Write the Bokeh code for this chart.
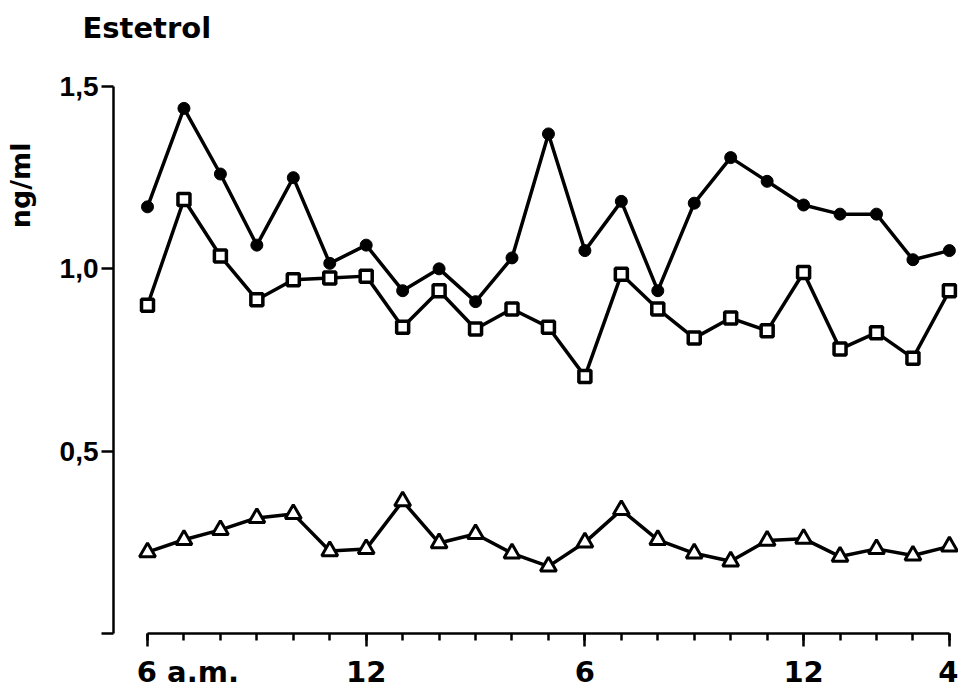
from bokeh.plotting import figure
from bokeh.models import Range1d, FixedTicker, Title
from bokeh.embed import file_html
from bokeh.resources import INLINE

# hours after 6 a.m. (6 a.m. -> 4 a.m. next day)
hours = list(range(23))
x_tick_values = [0, 6, 12, 18, 22]
x_tick_labels = ["\u00a0" * 8 + "6 a.m.", "12", "6", "12", "4"]
y_tick_values = [0, 0.5, 1.0, 1.5]
y_tick_labels = ["", "0,5", "1,0", "1,5"]

# Estetrol, ng/ml
circles = [1.17, 1.44, 1.26, 1.065, 1.25, 1.015, 1.065, 0.94, 1.0, 0.91, 1.03, 1.37,
           1.05, 1.185, 0.94, 1.18, 1.305, 1.24, 1.175, 1.15, 1.15, 1.025, 1.05]
squares = [0.90, 1.19, 1.035, 0.915, 0.97, 0.975, 0.98, 0.84, 0.94, 0.835, 0.89, 0.84,
           0.705, 0.985, 0.89, 0.81, 0.865, 0.83, 0.99, 0.78, 0.825, 0.755, 0.94]
triangles = [0.223, 0.257, 0.284, 0.317, 0.328, 0.226, 0.232, 0.363, 0.248, 0.273, 0.22, 0.184,
             0.25, 0.339, 0.257, 0.22, 0.198, 0.255, 0.26, 0.211, 0.232, 0.214, 0.239]

p = figure(width=958, height=692, output_backend="svg", toolbar_location=None,
           x_range=Range1d(-0.933, 22.25), y_range=Range1d(0, 1.5),
           min_border_left=113, min_border_right=0, min_border_top=86, min_border_bottom=59,
           title=None)
p.outline_line_color = None
p.grid.visible = False
p.background_fill_color = "white"
p.border_fill_color = "white"

# x axis
xa = p.xaxis[0]
xa.ticker = FixedTicker(ticks=x_tick_values, minor_ticks=hours)
xa.bounds = (0, 22)
xa.major_label_overrides = dict(zip(x_tick_values, x_tick_labels))
xa.axis_line_width = 2.5
xa.major_tick_line_width = 2.5
xa.minor_tick_line_width = 2.5
xa.major_tick_out = 13
xa.major_tick_in = 0
xa.minor_tick_out = 7
xa.minor_tick_in = 0
xa.major_label_standoff = 8
xa.major_label_text_font = "DejaVu Sans"
xa.major_label_text_font_style = "bold"
xa.major_label_text_font_size = "29px"
xa.major_label_text_color = "black"

# y axis
ya = p.yaxis[0]
ya.ticker = FixedTicker(ticks=y_tick_values, minor_ticks=[])
ya.bounds = (0, 1.5)
ya.major_label_overrides = dict(zip(y_tick_values, y_tick_labels))
ya.axis_line_width = 2.5
ya.major_tick_line_width = 2.5
ya.major_tick_out = 12
ya.major_tick_in = 0
ya.minor_tick_out = 0
ya.minor_tick_in = 0
ya.major_label_standoff = 3
ya.major_label_text_font = "Liberation Sans"
ya.major_label_text_font_style = "bold"
ya.major_label_text_font_size = "28px"
ya.major_label_text_color = "black"

# series
p.line(hours, circles, line_color="black", line_width=3.5)
p.scatter(hours, circles, marker="circle", size=12, fill_color="black", line_color="black")

p.line(hours, squares, line_color="black", line_width=3.5)
p.scatter(hours, squares, marker="square", size=12, fill_color="white", line_color="black", line_width=3.5)

p.line(hours, triangles, line_color="black", line_width=3.5)
p.scatter(hours, triangles, marker="triangle", size=16, fill_color="white", line_color="black", line_width=3)

# texts
p.add_layout(Title(text="Estetrol\n", align="left", vertical_align="bottom", offset=-31, standoff=16,
                   text_font="DejaVu Sans", text_font_style="bold", text_font_size="29px",
                   text_color="black"), "above")
p.add_layout(Title(text="ng/ml\n", align="right", vertical_align="bottom", offset=56, standoff=4,
                   text_line_height=0.6,
                   text_font="DejaVu Sans", text_font_style="bold", text_font_size="27px",
                   text_color="black"), "left")

open("out.html", "w").write(file_html(p, INLINE))
